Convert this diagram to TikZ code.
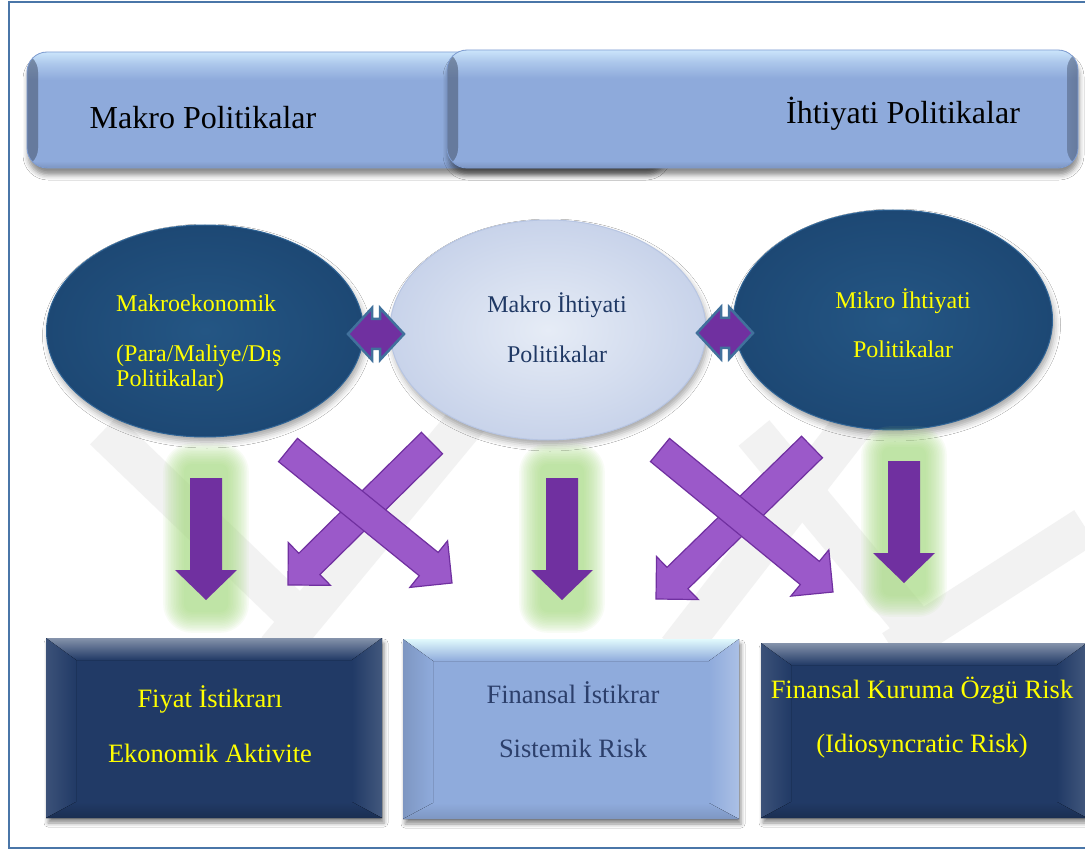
\documentclass[tikz,border=0pt]{standalone}
\usepackage{fontspec}
\setmainfont{Liberation Serif}
\usetikzlibrary{calc,shapes.geometric,shadows.blur}

\definecolor{frameblue}{HTML}{4A76A8}
\definecolor{barblue}{HTML}{8EAADB}
\definecolor{barlight}{HTML}{CBE5FB}
\definecolor{barline}{HTML}{7F9DD2}
\definecolor{ovaldark}{HTML}{1D4874}
\definecolor{ovalmid}{HTML}{245684}
\definecolor{ovalrim}{HTML}{2F6496}
\definecolor{ovallight}{HTML}{C8D3EA}
\definecolor{ovalwhite}{HTML}{E6ECF6}
\definecolor{ovallightrim}{HTML}{B7C5E2}
\definecolor{textnavy}{HTML}{1F3864}
\definecolor{boxtextnavy}{HTML}{2C3F6B}
\definecolor{boxnavy}{HTML}{213A66}
\definecolor{boxlight}{HTML}{8FABDC}
\definecolor{deeppurple}{HTML}{7030A0}
\definecolor{lightpurple}{HTML}{9B59C9}
\definecolor{glowgreen}{HTML}{A6DC7E}
\definecolor{linkblue}{HTML}{41719C}
\definecolor{txtyellow}{HTML}{FFFF00}
\definecolor{markgray}{HTML}{F2F2F2}

% bar body: flat blue with a light band along the top edge
% (the path's bounding box covers 25bp..75bp of the shading)
\pgfdeclareverticalshading{barshade}{100bp}{color(0bp)=(barblue!88!black); color(25bp)=(barblue!88!black);
  color(28bp)=(barblue); color(63bp)=(barblue); color(70bp)=(barlight!50!barblue);
  color(75bp)=(barlight); color(100bp)=(barlight)}

% block arrow: style, tail centre, tip, half shaft width, half head width, head length
\newcommand\drawblockarrow[6]{%
  \coordinate (ba-base) at ($(#3)!#6!(#2)$);
  \path[#1] ($(#2)!#4!90:(#3)$) -- ($(ba-base)!#4!90:(#3)$) -- ($(ba-base)!#5!90:(#3)$) -- (#3)
    -- ($(ba-base)!#5!-90:(#3)$) -- ($(ba-base)!#4!-90:(#3)$) -- ($(#2)!#4!-90:(#3)$) -- cycle;
}

% bevelled faces of a box node: node, top, left, right, bottom, base colour
\newcommand\bevelfaces[6]{%
  \fill[top color=#2, bottom color=#6] (#1.north west) -- (#1.north east)
    -- ($(#1.north east)+(-30,22)$) -- ($(#1.north west)+(30,22)$) -- cycle;
  \fill[left color=#3, right color=#6] (#1.north west) -- ($(#1.north west)+(30,22)$)
    -- ($(#1.south west)+(30,-16)$) -- (#1.south west) -- cycle;
  \fill[right color=#4, left color=#6] (#1.north east) -- ($(#1.north east)+(-30,22)$)
    -- ($(#1.south east)+(-30,-16)$) -- (#1.south east) -- cycle;
  \fill[bottom color=#5, top color=#6] (#1.south west) -- ($(#1.south west)+(30,-16)$)
    -- ($(#1.south east)+(-30,-16)$) -- (#1.south east) -- cycle;
}

% soft green halo
\newcommand\halo[4]{%
  \foreach \k [evaluate=\k as \r using 8+1.6*\k, evaluate=\k as \d using 1.6*\k] in {0,...,13}
    \fill[glowgreen, opacity=0.075, rounded corners=\r pt]
      ({#1-\d},{#2-\d}) rectangle ({#3+\d},{#4+\d});
}

\begin{document}
\begin{tikzpicture}[x=1pt, y=-1pt, line join=miter,
  bar/.style={draw=barline, line width=0.8pt, shade, shading=barshade, rounded corners=20pt,
    inner sep=0pt, outer sep=0pt,
    blur shadow={shadow xshift=1pt, shadow yshift=-7pt, shadow blur radius=5pt, shadow opacity=45},
    path picture={
      \fill[left color=barblue!85!black, right color=barblue, opacity=0.35]
        (path picture bounding box.north west) rectangle ([xshift=11pt]path picture bounding box.south west);
      \fill[right color=barblue!85!black, left color=barblue, opacity=0.35]
        (path picture bounding box.north east) rectangle ([xshift=-11pt]path picture bounding box.south east);
    }},
  darkoval/.style={ellipse, inner sep=0pt, outer sep=0pt, draw=ovalrim, line width=1pt,
    inner color=ovalmid, outer color=ovaldark,
    blur shadow={shadow xshift=2pt, shadow yshift=-5pt, shadow blur radius=6pt, shadow opacity=35}},
  lightoval/.style={ellipse, inner sep=0pt, outer sep=0pt, draw=ovallightrim, line width=1pt,
    inner color=ovalwhite, outer color=ovallight,
    blur shadow={shadow xshift=2pt, shadow yshift=-5pt, shadow blur radius=6pt, shadow opacity=35}},
  navybox/.style={rectangle, inner sep=0pt, outer sep=0pt, fill=boxnavy,
    blur shadow={shadow xshift=2pt, shadow yshift=-5pt, shadow blur radius=4pt, shadow opacity=45}},
  lightbox/.style={rectangle, inner sep=0pt, outer sep=0pt, fill=boxlight,
    blur shadow={shadow xshift=2pt, shadow yshift=-5pt, shadow blur radius=4pt, shadow opacity=45}},
  linkarrow/.style={fill=deeppurple, draw=linkblue, line width=2.5pt},
  downarrow/.style={fill=deeppurple},
  crossarrow/.style={fill=lightpurple, draw=deeppurple, line width=1.2pt},
  markband/.style={draw=markgray, line width=40pt},
  bartext/.style={anchor=base, inner sep=0pt, text=black, font=\fontsize{32}{38}\selectfont},
  ovaltext/.style={anchor=base, inner sep=0pt, text=txtyellow, font=\fontsize{24}{28}\selectfont},
  ovalnavytext/.style={ovaltext, text=textnavy},
  boxtext/.style={anchor=base, inner sep=0pt, text=txtyellow, font=\fontsize{26.5}{30}\selectfont},
  boxnavytext/.style={boxtext, text=boxtextnavy}
]
\clip (0,0) rectangle (1085,850);
\fill[white] (0,0) rectangle (1085,850);

% faint background mark
\begin{scope}
  \clip (20,400) rectangle (1085,650);
  \draw[markband] (104,430) -- (298,617);
  \draw[markband] (277,650) -- (484,400);
  \draw[markband] (678,650) -- (872,400);
  \draw[markband] (754,433) -- (920,633);
  \draw[markband] (893,650) -- (1085,527);
\end{scope}

% page frame
\draw[frameblue, line width=2.5pt] (9,2) rectangle (1100,848);

% policy bars
\node[bar, minimum width=638, minimum height=116] (macrobar) at (346,110) {};
\node[bar, minimum width=631, minimum height=118] (prudbar) at (762.5,109) {};
\node[bartext] (macrobartext) at (203,129) {Makro Politikalar};
\node[bartext] (prudbartext) at (903,124) {İhtiyati Politikalar};

% policy ovals
\node[darkoval, minimum width=317, minimum height=212] (macroeco) at (205,331) {};
\node[lightoval, minimum width=316, minimum height=220] (macropru) at (548,330) {};
\node[darkoval, minimum width=319, minimum height=220] (micropru) at (893,320) {};

\node[ovaltext, anchor=base west] (me1) at (116,312) {Makroekonomik};
\node[ovaltext, anchor=base west] (me2) at (116,362) {(Para/Maliye/Dış};
\node[ovaltext, anchor=base west] (me3) at (116,387) {Politikalar)};
\node[ovalnavytext] (mp1) at (557,313) {Makro İhtiyati};
\node[ovalnavytext] (mp2) at (557,363) {Politikalar};
\node[ovaltext] (mi1) at (903,309) {Mikro İhtiyati};
\node[ovaltext] (mi2) at (903,358) {Politikalar};

% two-way links between the ovals
\coordinate (linkl) at (376,334);
\coordinate (linkr) at (725,333);
\foreach \c in {linkl,linkr}
  \draw[linkarrow, shift={(\c)}] (-28,0) -- (-4,-26) -- (-4,-15) -- (4,-15) -- (4,-26) -- (28,0)
    -- (4,26) -- (4,15) -- (-4,15) -- (-4,26) -- cycle;

% halos behind the straight arrows
\halo{184}{464}{228}{612}
\halo{540}{464}{584}{612}
\halo{882}{447}{926}{596}

% straight arrows
\coordinate (v1s) at (206,478); \coordinate (v1e) at (206,600);
\coordinate (v2s) at (562,478); \coordinate (v2e) at (562,600);
\coordinate (v3s) at (904,461); \coordinate (v3e) at (904,583);
\drawblockarrow{downarrow}{v1s}{v1e}{16pt}{31pt}{30pt}
\drawblockarrow{downarrow}{v2s}{v2e}{16pt}{31pt}{30pt}
\drawblockarrow{downarrow}{v3s}{v3e}{16pt}{31pt}{30pt}

% crossing arrows
\coordinate (c1as) at (432,443); \coordinate (c1ae) at (288,585);
\coordinate (c1bs) at (288,450); \coordinate (c1be) at (452,583);
\coordinate (c2as) at (812,447); \coordinate (c2ae) at (656,599);
\coordinate (c2bs) at (660,450); \coordinate (c2be) at (833,592);
\drawblockarrow{crossarrow}{c1as}{c1ae}{15pt}{30pt}{30pt}
\drawblockarrow{crossarrow}{c1bs}{c1be}{15pt}{30pt}{30pt}
\drawblockarrow{crossarrow}{c2as}{c2ae}{15pt}{30pt}{30pt}
\drawblockarrow{crossarrow}{c2bs}{c2be}{15pt}{30pt}{30pt}

% goal boxes
\node[navybox, minimum width=336, minimum height=180] (price) at (214,728) {};
\bevelfaces{price}{boxnavy!55!white}{boxnavy!88!white}{boxnavy!85!white}{boxnavy!80!black}{boxnavy}
\node[lightbox, minimum width=336, minimum height=180] (finstab) at (571,729) {};
\bevelfaces{finstab}{boxlight!40!cyan!15!white}{boxlight!88!black}{boxlight!75!white}{boxlight!88!black}{boxlight}
\node[navybox, minimum width=326, minimum height=175] (idio) at (924,730.5) {};
\bevelfaces{idio}{boxnavy!55!white}{boxnavy!88!white}{boxnavy!85!white}{boxnavy!80!black}{boxnavy}

\node[boxtext] (pr1) at (210,707) {Fiyat İstikrarı};
\node[boxtext] (pr2) at (210,762) {Ekonomik Aktivite};
\node[boxnavytext] (fs1) at (573,703) {Finansal İstikrar};
\node[boxnavytext] (fs2) at (573,757) {Sistemik Risk};
\node[boxtext] (id1) at (922,698) {Finansal Kuruma Özgü Risk};
\node[boxtext] (id2) at (922,752) {(Idiosyncratic Risk)};
\end{tikzpicture}
\end{document}
